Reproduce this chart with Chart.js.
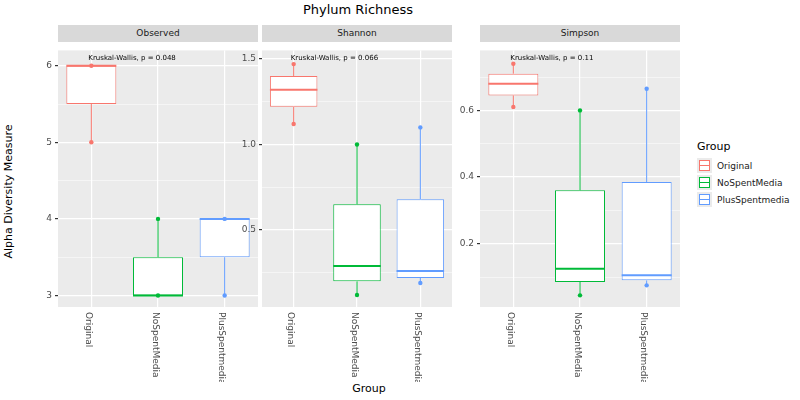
<!DOCTYPE html>
<html>
<head>
<meta charset="utf-8">
<script src="https://cdn.jsdelivr.net/npm/chart.js@4.4.0/dist/chart.umd.min.js"></script>
<style>
  body { margin: 0; width: 800px; height: 400px; background: #fff; font-family: "DejaVu Sans", sans-serif; position: relative; overflow: hidden; }
  .abs { position: absolute; }
  .strip { position: absolute; top: 25px; height: 17px; background: #D9D9D9; font-size: 9px; color: #1A1A1A; text-align: center; line-height: 17px; }
  canvas { position: absolute; }
  .key { display: flex; align-items: center; font-size: 9px; color: #1A1A1A; height: 17px; }
  .sw { width: 15px; height: 15px; background: #EBEBEB; position: relative; margin-right: 5px; }
  .sw i { position: absolute; left: 2px; top: 2px; width: 9px; height: 9px; border: 1px solid; background: #fff; }
  .sw b { position: absolute; left: 2px; top: 7px; width: 11px; height: 1px; }
</style>
</head>
<body>
<div class="abs" style="left:0;width:716px;top:2px;text-align:center;font-size:13px;color:#000">Phylum Richness</div>
<div class="abs" style="left:-82px;top:185px;font-size:11px;transform:rotate(-90deg);width:180px;text-align:center;white-space:nowrap;color:#000">Alpha Diversity Measure</div>
<div class="abs" style="left:58px;width:622px;top:382px;text-align:center;font-size:11px;color:#000">Group</div>
<div class="abs" style="left:697px;top:140px">
  <div style="font-size:11px;margin-bottom:4px;color:#000">Group</div>
  <div id="legend"></div>
</div>
<canvas id="c0"></canvas><canvas id="c1"></canvas><canvas id="c2"></canvas>
<script>
const groups = ["Original", "NoSpentMedia", "PlusSpentmedia"];
const colors = ["#F8766D", "#00BA38", "#619CFF"];
const measures = ["Observed", "Shannon", "Simpson"];
const pvalues = ["Kruskal-Wallis, p = 0.048", "Kruskal-Wallis, p = 0.066", "Kruskal-Wallis, p = 0.11"];

const observedMin = [5, 3, 3];
const observedQ1 = [5.5, 3, 3.5];
const observedMedian = [6, 3, 4];
const observedQ3 = [6, 3.5, 4];
const observedMax = [6, 4, 4];

const shannonMin = [1.12, 0.12, 0.19];
const shannonQ1 = [1.22, 0.20, 0.22];
const shannonMedian = [1.32, 0.29, 0.26];
const shannonQ3 = [1.40, 0.65, 0.68];
const shannonMax = [1.47, 1.00, 1.10];

const simpsonMin = [0.61, 0.045, 0.075];
const simpsonQ1 = [0.645, 0.085, 0.09];
const simpsonMedian = [0.68, 0.125, 0.105];
const simpsonQ3 = [0.71, 0.36, 0.385];
const simpsonMax = [0.74, 0.60, 0.665];

const panels = [
  { min: observedMin, q1: observedQ1, med: observedMedian, q3: observedQ3, max: observedMax, yMin: 2.85, yMax: 6.2, step: 0.5, left: 20, width: 238, yw: 38 },
  { min: shannonMin, q1: shannonQ1, med: shannonMedian, q3: shannonQ3, max: shannonMax, yMin: 0.05, yMax: 1.55, step: 0.25, left: 222, width: 230, yw: 40 },
  { min: simpsonMin, q1: simpsonQ1, med: simpsonMedian, q3: simpsonQ3, max: simpsonMax, yMin: 0.01, yMax: 0.78, step: 0.1, left: 442, width: 238, yw: 38 }
];

// legend
const leg = document.getElementById("legend");
groups.forEach((g, i) => {
  leg.insertAdjacentHTML("beforeend",
    `<div class="key"><div class="sw"><i style="border-color:${colors[i]}"></i><b style="background:${colors[i]}"></b></div>${g}</div>`);
});

const isMajor = (v, step) => {
  const m = v / (step * 2);
  return Math.abs(m - Math.round(m)) < 1e-6;
};

const boxPlugin = {
  id: "box",
  beforeDraw(chart) {
    const a = chart.chartArea, ctx = chart.ctx;
    ctx.save();
    ctx.fillStyle = "#EBEBEB";
    ctx.fillRect(a.left, a.top, a.right - a.left, a.bottom - a.top);
    ctx.restore();
  },
  beforeDatasetsDraw(chart) {
    const p = chart.options.plugins.box.panel, ctx = chart.ctx;
    const x = chart.scales.x, y = chart.scales.y;
    ctx.save();
    ctx.lineWidth = 1;
    groups.forEach((g, i) => {
      const px = x.getPixelForValue(i);
      ctx.strokeStyle = colors[i];
      ctx.beginPath();
      ctx.moveTo(px, y.getPixelForValue(p.min[i])); ctx.lineTo(px, y.getPixelForValue(p.q1[i]));
      ctx.moveTo(px, y.getPixelForValue(p.q3[i])); ctx.lineTo(px, y.getPixelForValue(p.max[i]));
      ctx.stroke();
    });
    ctx.restore();
  },
  afterDatasetsDraw(chart) {
    const p = chart.options.plugins.box.panel, ctx = chart.ctx;
    const x = chart.scales.x, y = chart.scales.y, a = chart.chartArea;
    ctx.save();
    const meta = chart.getDatasetMeta(0);
    groups.forEach((g, i) => {
      const bar = meta.data[i];
      ctx.strokeStyle = colors[i];
      ctx.lineWidth = 2;
      const py = y.getPixelForValue(p.med[i]);
      ctx.beginPath(); ctx.moveTo(bar.x - bar.width / 2, py); ctx.lineTo(bar.x + bar.width / 2, py); ctx.stroke();
      ctx.fillStyle = colors[i];
      [p.min[i], p.max[i]].forEach(v => {
        ctx.beginPath(); ctx.arc(x.getPixelForValue(i), y.getPixelForValue(v), 2.2, 0, Math.PI * 2); ctx.fill();
      });
      // rotated category labels
      ctx.fillStyle = "#4D4D4D";
      ctx.font = "9px 'DejaVu Sans'";
      ctx.save();
      ctx.translate(x.getPixelForValue(i) - 3, a.bottom + 5);
      ctx.rotate(Math.PI / 2);
      ctx.textBaseline = "middle";
      ctx.fillText(g, 0, 0);
      ctx.restore();
    });
    ctx.fillStyle = "#000";
    ctx.font = "7px 'DejaVu Sans'";
    ctx.fillText(chart.options.plugins.box.label, x.getPixelForValue(0) - 3, y.getPixelForValue(p.yMax) + 10);
    ctx.restore();
  }
};

panels.forEach((p, k) => {
  const cv = document.getElementById("c" + k);
  cv.style.left = p.left + "px"; cv.style.top = "42px";
  cv.style.width = p.width + "px"; cv.style.height = "340px";
  const strip = document.createElement("div");
  strip.className = "strip";
  strip.style.left = (p.left + p.yw) + "px";
  strip.style.width = (p.width - p.yw) + "px";
  strip.textContent = measures[k];
  document.body.appendChild(strip);

  new Chart(cv, {
    type: "bar",
    data: {
      labels: groups,
      datasets: [{
        data: groups.map((g, i) => [p.q1[i], p.q3[i]]),
        backgroundColor: "#FFFFFF",
        borderColor: colors,
        borderWidth: 1,
        borderSkipped: false,
        barPercentage: 0.75,
        categoryPercentage: 1
      }]
    },
    options: {
      responsive: false,
      animation: false,
      devicePixelRatio: 1,
      layout: { padding: 0 },
      plugins: { legend: { display: false }, tooltip: { enabled: false }, box: { panel: p, label: pvalues[k] } },
      scales: {
        x: {
          offset: true,
          grid: { color: "#FFFFFF", lineWidth: 1.2, offset: false, drawTicks: false },
          border: { display: false },
          ticks: { display: false },
          afterFit(s) { s.height = 75; }
        },
        y: {
          min: p.yMin, max: p.yMax,
          afterBuildTicks(s) {
            const t = [];
            for (let v = Math.ceil(p.yMin / p.step) * p.step; v <= p.yMax + 1e-9; v += p.step) {
              t.push({ value: Math.round(v * 1000) / 1000 });
            }
            s.ticks = t;
          },
          grid: {
            color: "#FFFFFF",
            lineWidth: c => (isMajor(c.tick.value, p.step) ? 1.2 : 0.5),
            tickColor: c => (isMajor(c.tick.value, p.step) ? "#333" : "rgba(0,0,0,0)"),
            tickLength: 3
          },
          border: { display: false },
          ticks: {
            color: "#4D4D4D",
            font: { size: 9, family: "DejaVu Sans" },
            callback: v => {
              if (!isMajor(v, p.step)) return "";
              return k === 0 ? String(Math.round(v)) : v.toFixed(1);
            }
          },
          afterFit(s) { s.width = p.yw; }
        }
      }
    },
    plugins: [boxPlugin]
  });
});
</script>
</body>
</html>
